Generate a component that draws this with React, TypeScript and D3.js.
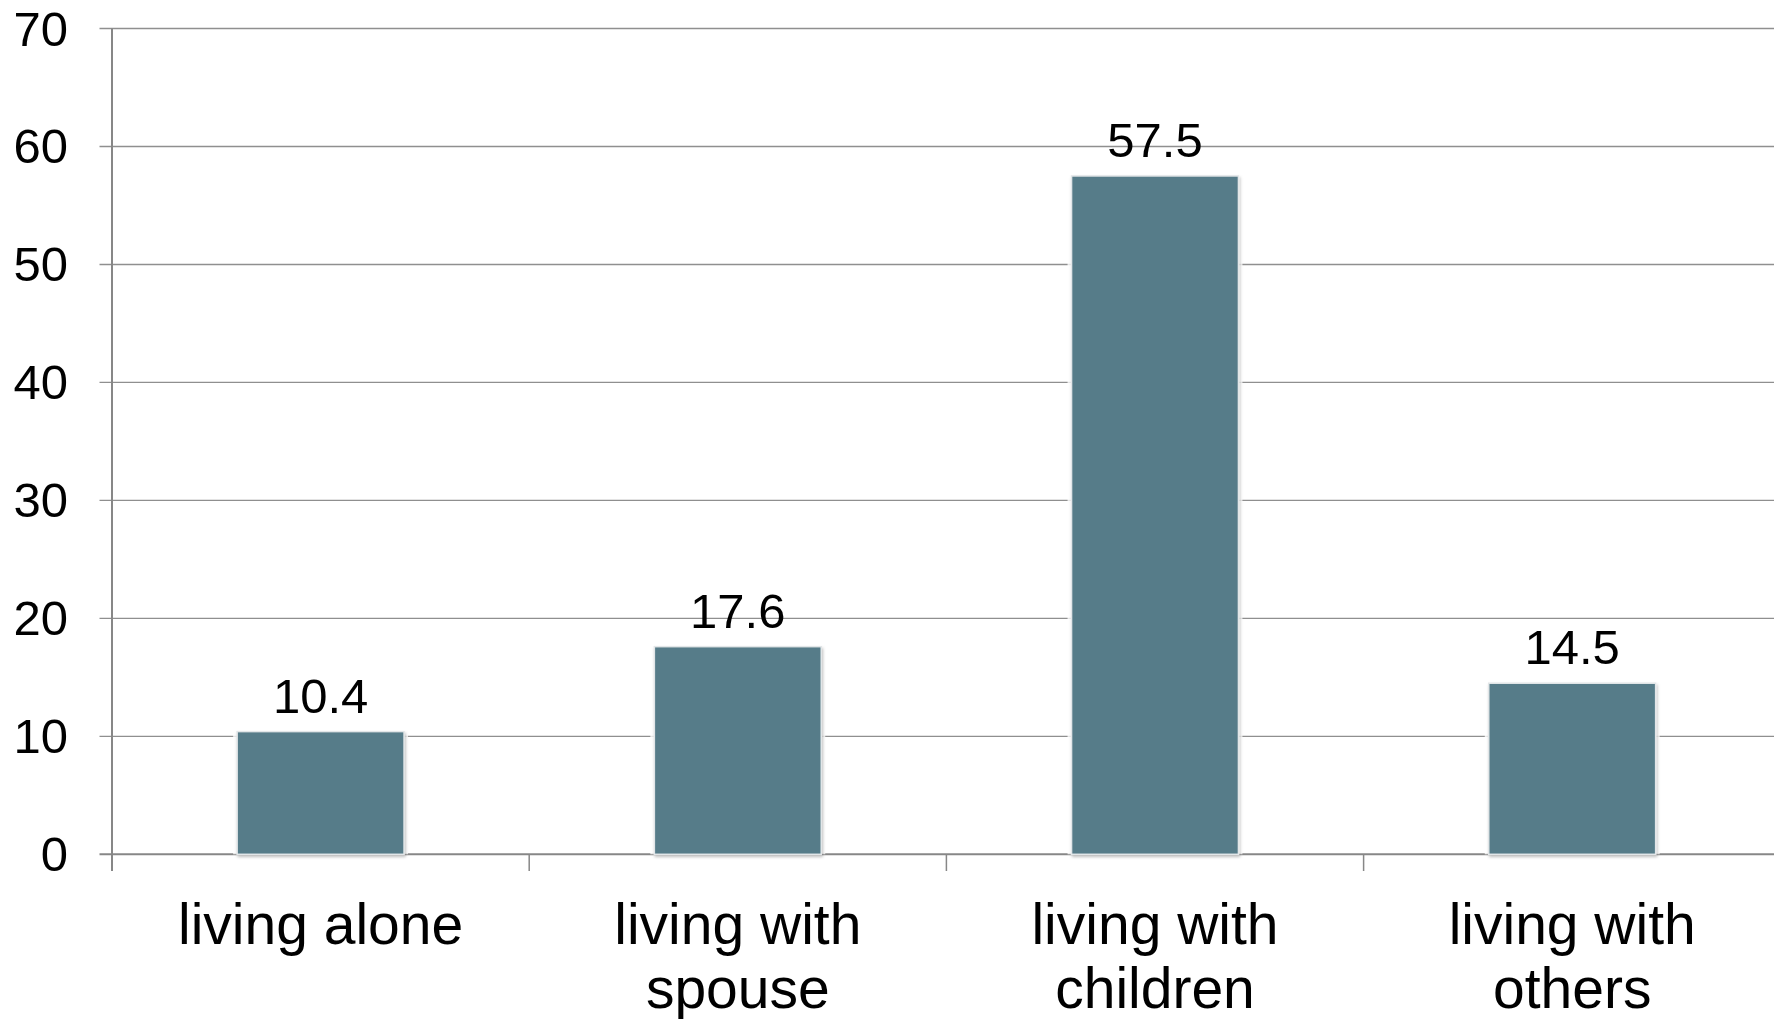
import React from "react";
import * as d3 from "d3";

const categories: string[][] = [
  ["living alone"],
  ["living with", "spouse"],
  ["living with", "children"],
  ["living with", "others"],
];
const values: number[] = [10.4, 17.6, 57.5, 14.5];
const yTicks: number[] = [0, 10, 20, 30, 40, 50, 60, 70];

const W = 1774;
const H = 1019;
const left = 112;
const bandW = 417.2;
const y0 = 854.3;
const y70 = 28.5;
const font = "'Liberation Sans', Arial, sans-serif";
const barColor = "#577c89";

export default function App() {
  const keys = categories.map((c) => c.join(" "));
  const x = d3
    .scaleBand<string>()
    .domain(keys)
    .range([left, left + bandW * keys.length])
    .paddingInner(0.6)
    .paddingOuter(0.3);
  const y = d3.scaleLinear().domain([0, 70]).range([y0, y70]);
  const boundaries = d3.range(keys.length + 1).map((i) => left + i * bandW);

  return (
    <svg
      width={W}
      height={H}
      style={{ position: "absolute", left: 0, top: 0, background: "#fff" }}
      fontFamily={font}
    >
      <defs>
        <filter id="sh" x="-10%" y="-10%" width="120%" height="120%">
          <feDropShadow dx="1" dy="2" stdDeviation="1.5" floodColor="#000" floodOpacity="0.25" />
        </filter>
      </defs>
      {yTicks.map((t) => (
        <g key={t}>
          <line
            x1={99.5}
            x2={W}
            y1={y(t)}
            y2={y(t)}
            stroke={t === 0 ? "#878787" : "#8f8f8f"}
            strokeWidth={t === 0 ? 2 : 1.4}
          />
          <text
            x={68}
            y={y(t)}
            textAnchor="end"
            dominantBaseline="central"
            fontSize={49}
            fill="#000"
          >
            {t}
          </text>
        </g>
      ))}
      <line x1={left} x2={left} y1={y70} y2={871} stroke="#878787" strokeWidth={2} />
      {boundaries.map((bx, i) => (
        <line key={i} x1={bx} x2={bx} y1={y0} y2={871} stroke="#878787" strokeWidth={1.5} />
      ))}
      {keys.map((k, i) => {
        const bx = x(k)!;
        const bw = x.bandwidth();
        return (
          <g key={k}>
            <rect
              x={bx - 4}
              y={y(values[i]) - 3}
              width={bw + 8}
              height={y0 - y(values[i]) + 3}
              fill="#fff"
              opacity={0.8}
            />
            <rect
              x={bx}
              y={y(values[i])}
              width={bw}
              height={y0 - y(values[i])}
              fill={barColor}
              stroke="#e2e6e8"
              strokeWidth={1.5}
              filter="url(#sh)"
            />
            <text
              x={bx + bw / 2}
              y={y(values[i]) - 19}
              textAnchor="middle"
              fontSize={49}
              fill="#000"
            >
              {values[i].toFixed(1)}
            </text>
            {categories[i].map((line, j) => (
              <text
                key={j}
                x={bx + bw / 2}
                y={944 + j * 64}
                textAnchor="middle"
                fontSize={57}
                fill="#000"
              >
                {line}
              </text>
            ))}
          </g>
        );
      })}
    </svg>
  );
}
